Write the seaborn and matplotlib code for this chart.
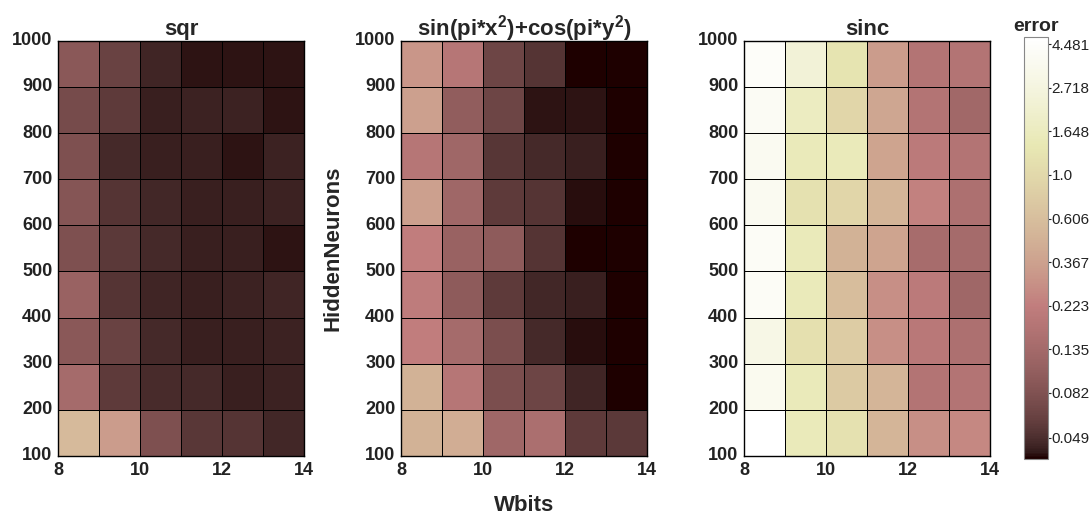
import numpy as np
import matplotlib.pyplot as plt
import seaborn as sns
from matplotlib.colors import LogNorm
from matplotlib.ticker import NullLocator

# bins: Wbits 8..13 (width 1), HiddenNeurons 100..900 (width 100), rows listed bottom -> top
wbits_ticks = [8, 10, 12, 14]
neuron_ticks = [100, 200, 300, 400, 500, 600, 700, 800, 900, 1000]

sqr_err = [
    [0.56, 0.34, 0.080, 0.054, 0.052, 0.046],
    [0.137, 0.057, 0.048, 0.047, 0.043, 0.044],
    [0.093, 0.063, 0.047, 0.043, 0.043, 0.044],
    [0.113, 0.052, 0.045, 0.043, 0.044, 0.045],
    [0.080, 0.056, 0.047, 0.043, 0.043, 0.041],
    [0.088, 0.052, 0.046, 0.043, 0.043, 0.044],
    [0.080, 0.047, 0.043, 0.043, 0.041, 0.044],
    [0.073, 0.057, 0.043, 0.044, 0.044, 0.041],
    [0.093, 0.063, 0.045, 0.041, 0.041, 0.041],
]
sincos_err = [
    [0.48, 0.44, 0.124, 0.151, 0.057, 0.056],
    [0.48, 0.183, 0.077, 0.066, 0.045, 0.038],
    [0.222, 0.137, 0.077, 0.047, 0.040, 0.038],
    [0.212, 0.097, 0.057, 0.046, 0.043, 0.038],
    [0.222, 0.113, 0.097, 0.052, 0.038, 0.038],
    [0.36, 0.124, 0.057, 0.052, 0.040, 0.038],
    [0.183, 0.124, 0.053, 0.047, 0.043, 0.038],
    [0.36, 0.102, 0.066, 0.041, 0.041, 0.038],
    [0.31, 0.183, 0.066, 0.052, 0.038, 0.038],
]
sinc_err = [
    [4.95, 1.55, 1.21, 0.51, 0.283, 0.257],
    [3.53, 1.55, 0.75, 0.51, 0.174, 0.174],
    [3.05, 1.16, 0.78, 0.283, 0.192, 0.158],
    [4.08, 1.55, 0.59, 0.283, 0.20, 0.124],
    [4.08, 1.55, 0.48, 0.38, 0.144, 0.137],
    [3.70, 1.21, 0.95, 0.51, 0.233, 0.158],
    [3.70, 1.55, 1.55, 0.38, 0.20, 0.174],
    [3.89, 1.70, 0.95, 0.40, 0.174, 0.130],
    [4.28, 2.39, 1.27, 0.343, 0.174, 0.174],
]
titles = ["sqr", r"sin(pi*x$^{2}$)+cos(pi*y$^{2}$)", "sinc"]
cbar_ticks = [0.049, 0.082, 0.135, 0.223, 0.367, 0.606, 1.0, 1.648, 2.718, 4.481]

sns.set_style("white")
plt.rcParams["font.family"] = ["Liberation Sans", "DejaVu Sans"]
plt.rcParams["mathtext.fontset"] = "custom"
plt.rcParams["mathtext.bf"] = "Liberation Sans:bold"
plt.rcParams["mathtext.rm"] = "Liberation Sans:bold"
plt.rcParams["mathtext.default"] = "bf"

norm = LogNorm(vmin=np.exp(-3.26), vmax=np.exp(1.58))

fig = plt.figure(figsize=(10.91, 5.17), dpi=100)
lefts = [58 / 1091, 401 / 1091, 744 / 1091]
axes = [fig.add_axes([l, 0.118, 246 / 1091, 0.803]) for l in lefts]
cax = fig.add_axes([1024 / 1091, 0.112, 24 / 1091, 0.816])

for i, (ax, data, title) in enumerate(zip(axes, [sqr_err, sincos_err, sinc_err], titles)):
    last = i == 2
    sns.heatmap(np.array(data), ax=ax, cmap="pink", norm=norm, linewidths=0.7,
                linecolor="black", cbar=last, cbar_ax=cax if last else None)
    ax.invert_yaxis()
    ax.set_xticks([0, 2, 4, 6])
    ax.set_xticklabels([str(t) for t in wbits_ticks], rotation=0)
    ax.set_yticks(range(10))
    ax.set_yticklabels([str(t) for t in neuron_ticks], rotation=0)
    ax.tick_params(labelsize=13, length=3, direction="in", pad=4, colors="#222222")
    for lab in ax.get_xticklabels() + ax.get_yticklabels():
        lab.set_fontweight("bold")
    for s in ax.spines.values():
        s.set_visible(True)
        s.set_color("black")
        s.set_linewidth(1)
    ax.set_title(title, fontsize=16, fontweight="bold", pad=4)

axes[1].set_xlabel("Wbits", fontsize=16, fontweight="bold", labelpad=12)
axes[1].set_ylabel("HiddenNeurons", fontsize=16, fontweight="bold", labelpad=8)

cbar = axes[2].collections[0].colorbar
cbar.ax.yaxis.set_minor_locator(NullLocator())
cbar.set_ticks(cbar_ticks)
cbar.set_ticklabels([str(t) for t in cbar_ticks])
cbar.ax.tick_params(labelsize=11, length=2, pad=0.5, colors="#222222")
cbar.outline.set_edgecolor("#888888")
cbar.outline.set_linewidth(0.8)
fig.text(1036 / 1091, 1 - 27 / 517, "error", ha="center", va="center",
         fontsize=14, fontweight="bold")

plt.savefig("out.png", dpi=100)
